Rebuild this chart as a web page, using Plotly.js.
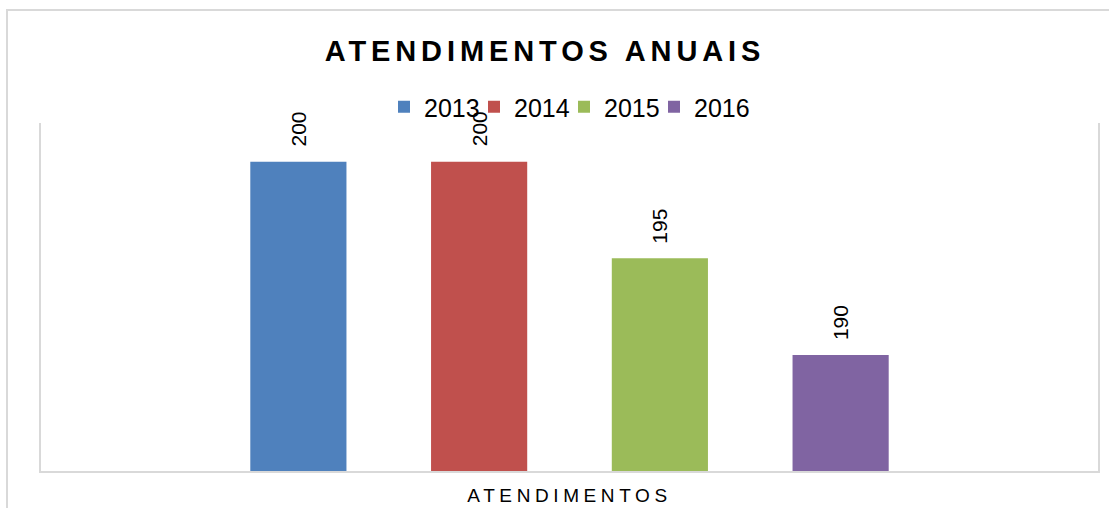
<!DOCTYPE html>
<html>
<head>
<meta charset="utf-8">
<script src="https://cdn.plot.ly/plotly-3.0.1.min.js"></script>
<style>
  html, body { margin: 0; padding: 0; background: #fff; }
  #chart { width: 1109px; height: 508px; }
  .gtitle { letter-spacing: 4.9px; }
  .xtick text { letter-spacing: 4.6px; }
  .legend .scrollbox { clip-path: none !important; }
</style>
</head>
<body>
<div id="chart"></div>
<script>
// ---- data ----
var categories = ['ATENDIMENTOS'];
var seriesNames = ['2013', '2014', '2015', '2016'];
var seriesValues = [200, 200, 195, 190];
var seriesColors = ['#4f81bd', '#c0504d', '#9bbb59', '#8064a2'];
var chartTitle = 'ATENDIMENTOS ANUAIS';

// ---- layout constants ----
var FONT = '"Liberation Sans", Arial, sans-serif';
var BARGAP = 0.316;
var BARGROUPGAP = 0.468;
var GRID = '#d9d9d9';
var mL = 41, mR = 11, mT = 123, mB = 37;
var W = 1109, H = 508;
var pw = W - mL - mR, ph = H - mT - mB;

var traces = seriesNames.map(function (name, i) {
  return {
    type: 'bar',
    name: name,
    x: categories,
    y: [seriesValues[i]],
    marker: { color: seriesColors[i] },
    hoverinfo: 'skip'
  };
});

var n = seriesNames.length;
var slot = (1 - BARGAP) / n;
var annotations = seriesValues.map(function (v, i) {
  return {
    xref: 'x', yref: 'y',
    x: (i - (n - 1) / 2) * slot,
    y: v,
    text: String(v),
    showarrow: false,
    textangle: -90,
    xanchor: 'center', yanchor: 'bottom',
    yshift: 13,
    font: { family: FONT, size: 21, color: '#000' }
  };
});

var layout = {
  width: W, height: H,
  margin: { l: mL, r: mR, t: mT, b: mB, pad: 0 },
  paper_bgcolor: '#fff', plot_bgcolor: '#fff',
  barmode: 'group',
  bargap: BARGAP,
  bargroupgap: BARGROUPGAP,
  showlegend: true,
  title: {
    text: '<b>' + chartTitle + '</b>',
    font: { family: FONT, size: 29, color: '#000' },
    xref: 'container', x: 545 / W, xanchor: 'center',
    yref: 'container', y: 1 - 51 / H, yanchor: 'middle'
  },
  legend: {
    orientation: 'h',
    xref: 'paper', yref: 'paper',
    x: (384 - mL) / pw, xanchor: 'left',
    y: (H - mB - 107) / ph, yanchor: 'middle',
    font: { family: FONT, size: 25, color: '#000' },
    entrywidth: 45, entrywidthmode: 'pixels',
    bgcolor: 'rgba(0,0,0,0)',
    traceorder: 'normal'
  },
  xaxis: {
    type: 'category',
    showline: true, linecolor: GRID, linewidth: 2,
    showgrid: false, zeroline: false,
    ticks: '', ticklen: 0,
    ticklabelstandoff: 6,
    tickfont: { family: FONT, size: 19, color: '#000' },
    fixedrange: true
  },
  yaxis: {
    range: [184, 202],
    showline: true, mirror: true, linecolor: GRID, linewidth: 2,
    showgrid: false, zeroline: false,
    showticklabels: false, ticks: '',
    fixedrange: true
  },
  shapes: [{
    type: 'rect', xref: 'paper', yref: 'paper', layer: 'below',
    x0: (7 - mL) / pw, x1: 1.3,
    y0: -0.5, y1: (H - mB - 10) / ph,
    line: { color: GRID, width: 2 },
    fillcolor: 'rgba(0,0,0,0)'
  }],
  annotations: annotations
};

Plotly.newPlot('chart', traces, layout, { displayModeBar: false, staticPlot: true });
</script>
</body>
</html>
